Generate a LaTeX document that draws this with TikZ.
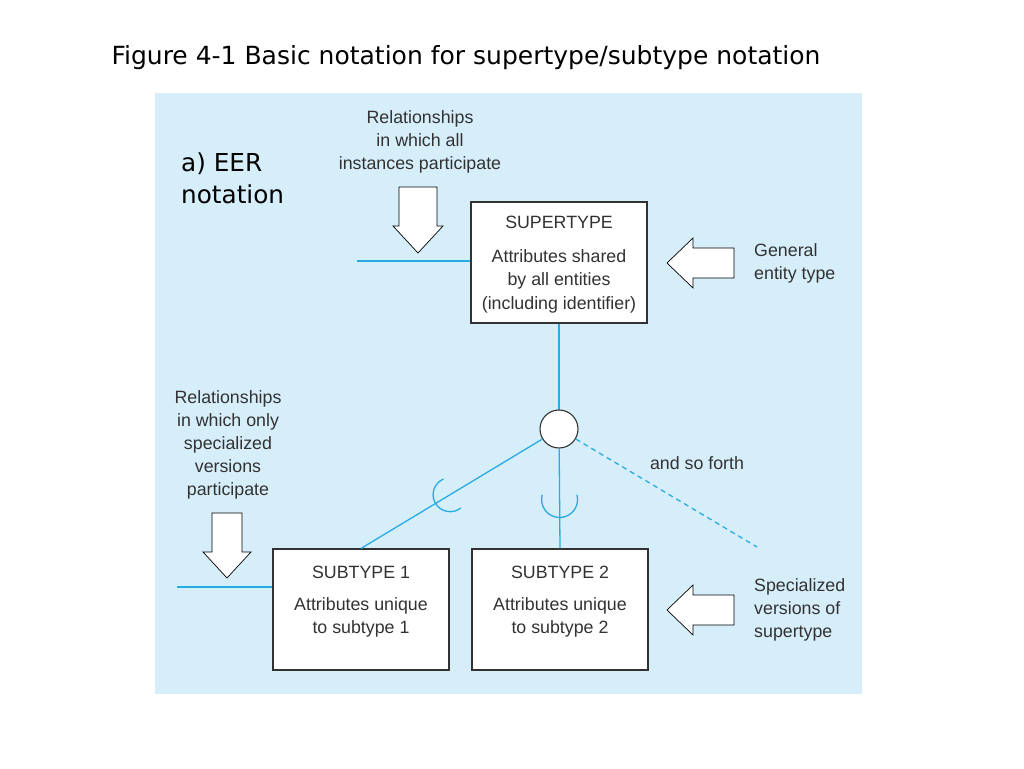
\documentclass[tikz,border=0pt]{standalone}
\usepackage[rgb]{xcolor}
\usepackage{tikz}
\usepackage{fontspec}
\setmainfont{Liberation Sans}
\newfontfamily\slidefont{DejaVu Sans}
\usetikzlibrary{calc}

\definecolor{panelblue}{RGB}{214,238,250}
\definecolor{linkblue}{RGB}{38,172,226}
\definecolor{inkgray}{RGB}{50,50,50}

\begin{document}
\begin{tikzpicture}[x=1pt, y=1pt,
  entity/.style={draw=inkgray, fill=white, line width=1.1pt, inner sep=0pt,
    minimum width=176pt, minimum height=121pt, text=inkgray,
    font=\fontsize{17.8}{23.5}\selectfont},
  note/.style={align=center, inner sep=0pt, text=inkgray,
    font=\fontsize{17.8}{23}\selectfont},
  link/.style={draw=linkblue, line width=1.3pt},
  fat/.style={fill=white, draw=black, line width=0.7pt}]

\useasboundingbox (0,0) rectangle (1024,768);

% Title
\path (466,710) node[font=\slidefont\fontsize{25}{30}\selectfont] (title)
  {Figure 4-1 Basic notation for supertype/subtype notation};

% Blue panel
\filldraw[fill=panelblue, draw=none] (155,74) rectangle (862,675);

\path (181,590) node[anchor=west, align=left, inner sep=0pt,
  font=\slidefont\fontsize{24.7}{32}\selectfont] (part) {a) EER\\notation};

% Supertype and subtypes
\path
(559,505.5) node[entity] (super) {\parbox[c][121pt][t]{176pt}{\centering\vspace*{14pt}SUPERTYPE\\[10.5pt]Attributes shared\\by all entities\\(including identifier)}}
(361,158.5) node[entity] (sub1) {\parbox[c][121pt][t]{176pt}{\centering\vspace*{17pt}SUBTYPE 1\\[8.5pt]Attributes unique\\to subtype 1}}
(560,158.5) node[entity] (sub2) {\parbox[c][121pt][t]{176pt}{\centering\vspace*{17pt}SUBTYPE 2\\[8.5pt]Attributes unique\\to subtype 2}};

\coordinate (forth) at (757,221);

% Circle and its links
\draw[link] (super.south) -- (559,358);
\path (559,339) node[circle, draw=inkgray, fill=white, line width=1.1pt,
  minimum size=38pt, inner sep=0pt] (circ) {};
\draw[link] (circ) -- (sub1.north);
\draw[link] (circ) -- (sub2.north);
\draw[link, dash pattern=on 5pt off 4pt] (circ) -- (forth);

% Subset symbols
\draw[link] ($(circ.center)!0.55!(sub1.north)$) ++(113:17) arc[start angle=113, end angle=309, radius=17];
\draw[link] ($(circ.center)!0.59!(sub2.north)$) ++(165:18) arc[start angle=165, end angle=375, radius=18];

% Relationship lines
\coordinate (rel1) at (357,507);
\draw[link] (rel1) -- (rel1 -| super.west);
\coordinate (rel2) at (177,181);
\draw[link] (rel2) -- (rel2 -| sub1.west);

% Block arrows
\filldraw[fat] (399,581) -- (437,581) -- (437,542) -- (443,542) -- (418,515) -- (393,542) -- (399,542) -- cycle;
\filldraw[fat] (212,255) -- (242,255) -- (242,216) -- (251,216) -- (227,190) -- (203,216) -- (212,216) -- cycle;
\filldraw[fat] (734,520) -- (734,490) -- (693,490) -- (693,480) -- (667,505) -- (693,530) -- (693,520) -- cycle;
\filldraw[fat] (734,173) -- (734,143) -- (693,143) -- (693,133) -- (667,158) -- (693,183) -- (693,173) -- cycle;

% Labels
\path
(420,626) node[note] (allrel) {Relationships\\in which all\\instances participate}
(228,323) node[note] (onlyrel) {Relationships\\in which only\\specialized\\versions\\participate}
(754,505) node[note, anchor=west, align=left] (general) {General\\entity type}
(754,158) node[note, anchor=west, align=left] (special) {Specialized\\versions of\\supertype}
(697,305) node[note] (forthtxt) {and so forth};

\end{tikzpicture}
\end{document}
